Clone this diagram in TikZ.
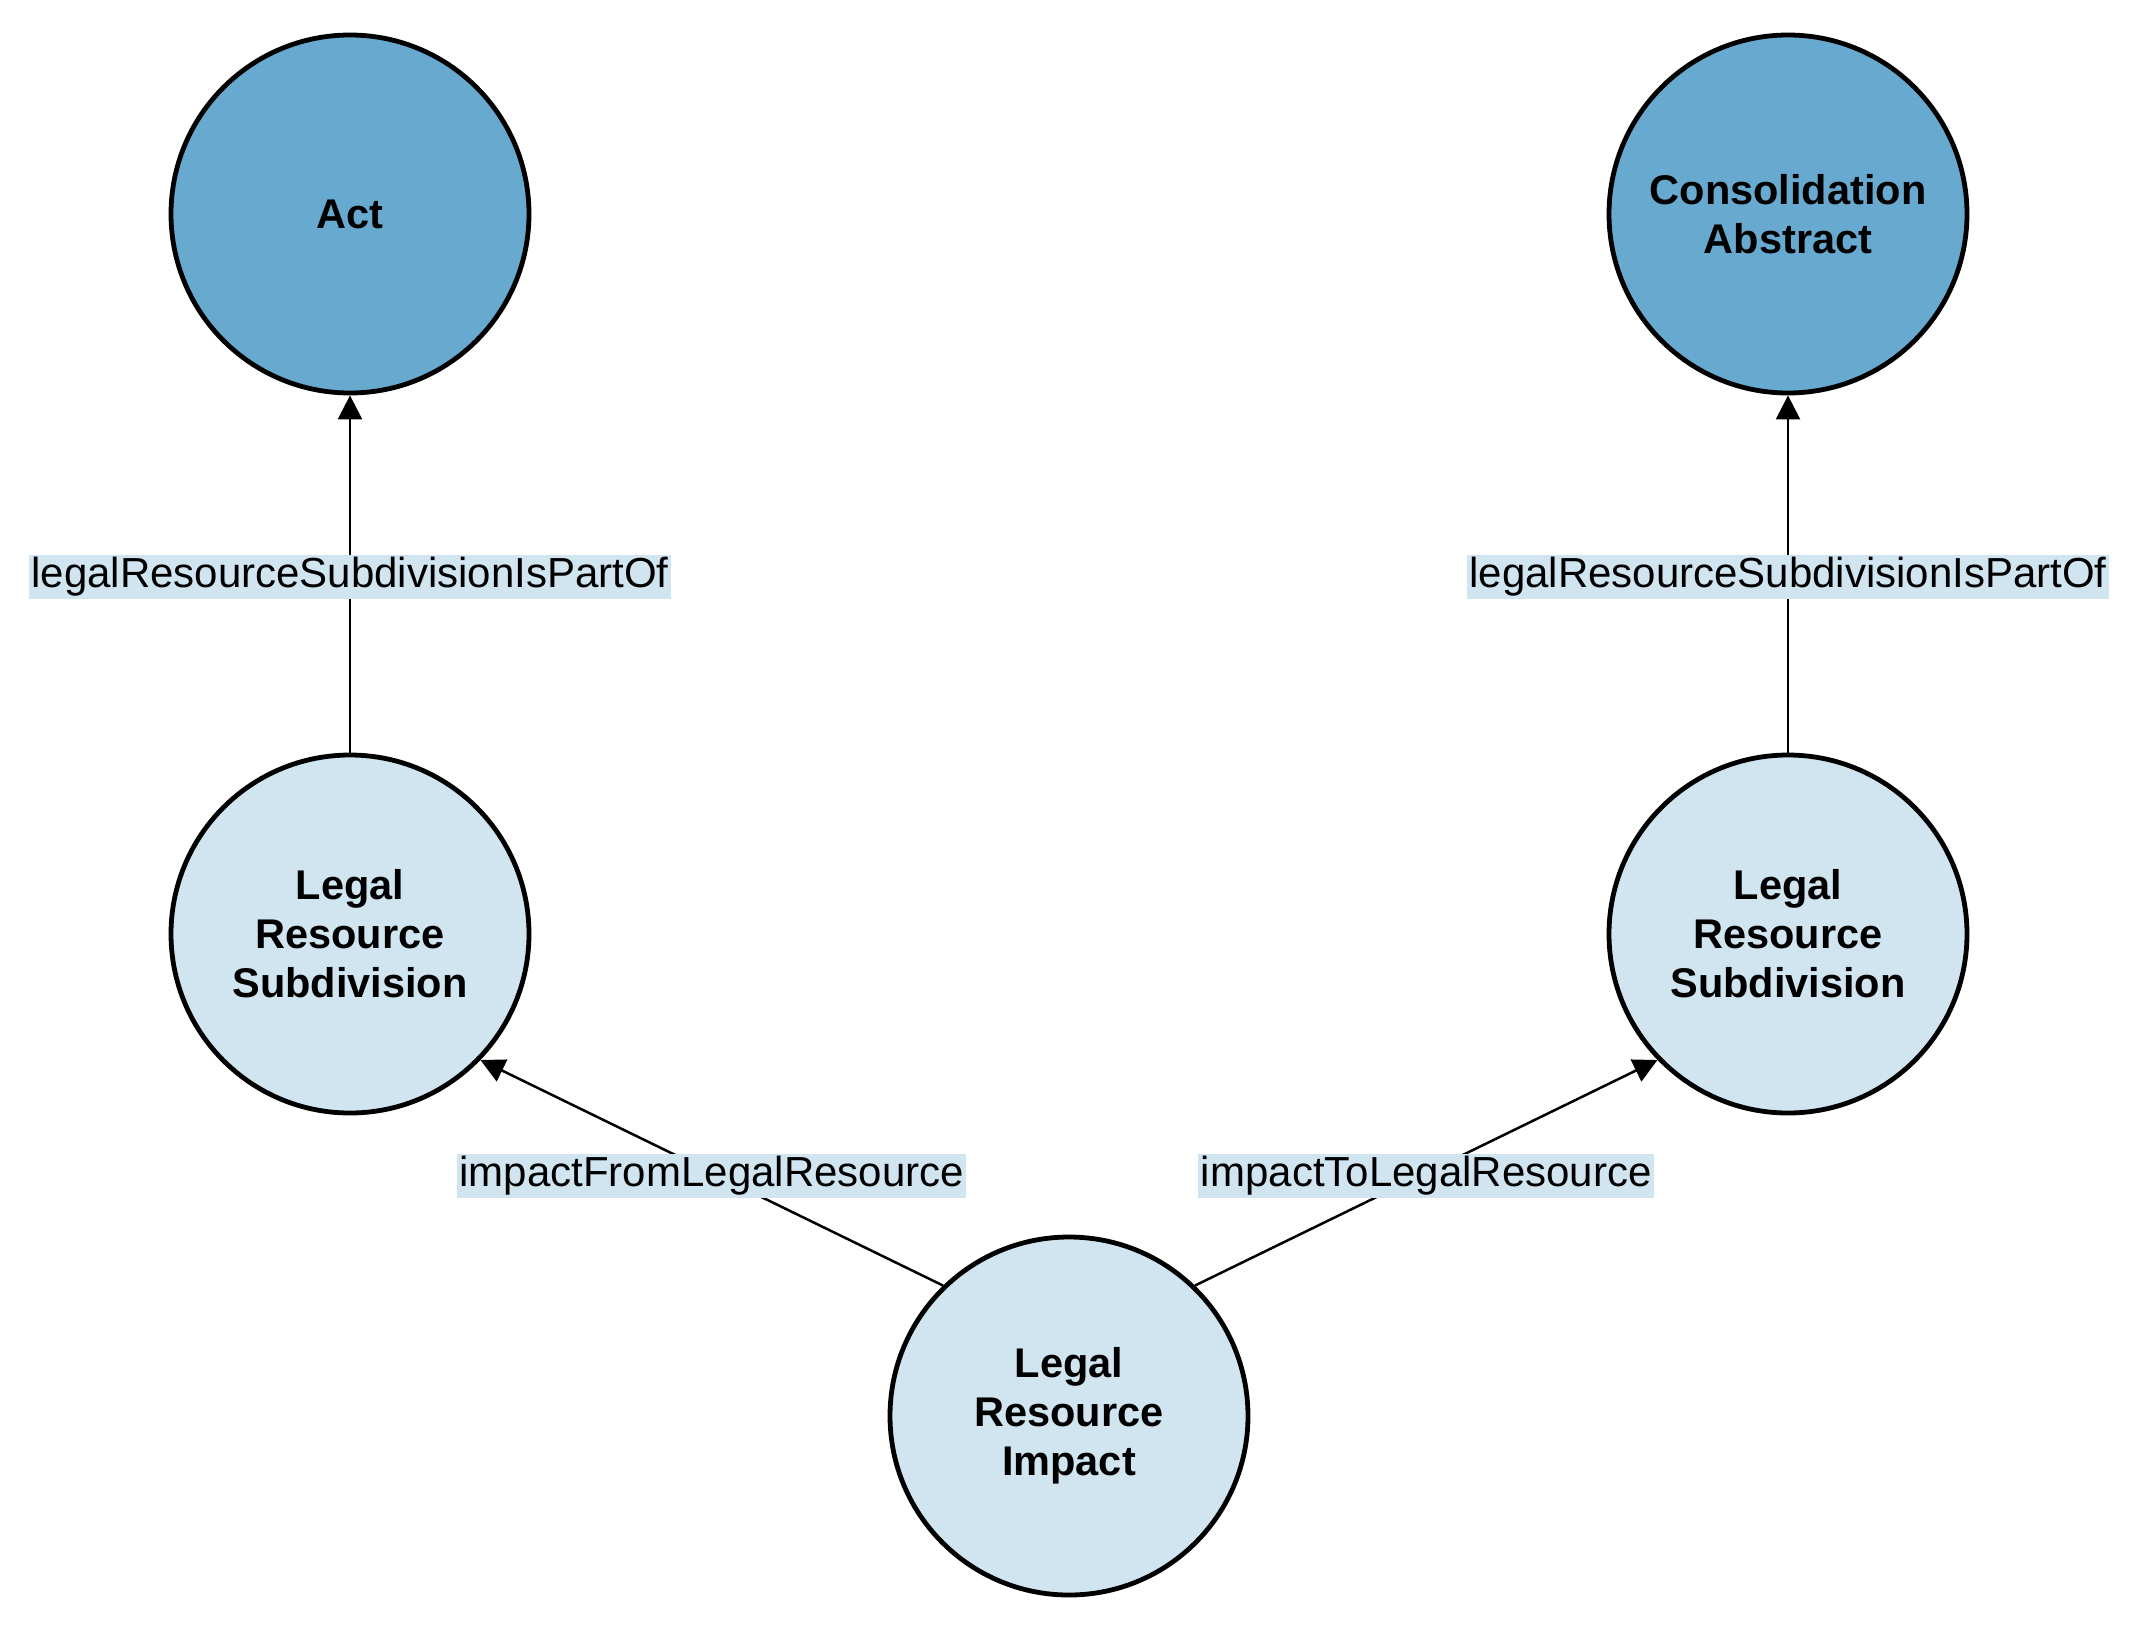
\documentclass[tikz,border=0pt]{standalone}
\usepackage{fontspec}
\setmainfont{Liberation Sans}
\usetikzlibrary{arrows.meta}
\definecolor{darkblue}{HTML}{67A9CF}
\definecolor{lightblue}{HTML}{D1E5F0}
\begin{document}
\begin{tikzpicture}[x=1pt,y=-1pt,
  cls/.style={circle,draw=black,line width=4.8pt,minimum size=358pt,inner sep=0pt,align=center,font=\fontsize{41.5}{49}\selectfont\bfseries},
  dark/.style={cls,fill=darkblue},
  light/.style={cls,fill=lightblue},
  rel/.style={line width=2.5pt,-{Triangle[width=24pt,length=24pt]}},
  lbl/.style={fill=lightblue,inner sep=2.5pt,yshift=-3pt,font=\fontsize{42}{49}\selectfont}]
\path[use as bounding box, fill=white] (0,0) rectangle (2136,1626);
\node[dark]  (act)  at (350,214)  {Act};
\node[dark]  (cons) at (1788,214) {Consolidation\\Abstract};
\node[light] (lrsl) at (350,934)  {Legal\\Resource\\Subdivision};
\node[light] (lrsr) at (1788,934) {Legal\\Resource\\Subdivision};
\node[light] (imp)  at (1069,1416) {Legal\\Resource\\Impact};
\draw[rel] (lrsl) -- node[lbl]{legalResourceSubdivisionIsPartOf} (act);
\draw[rel] (lrsr) -- node[lbl]{legalResourceSubdivisionIsPartOf} (cons);
\draw[rel] (imp.134) -- node[lbl]{impactFromLegalResource} (lrsl.-44);
\draw[rel] (imp.46) -- node[lbl]{impactToLegalResource} (lrsr.-136);
\end{tikzpicture}
\end{document}
